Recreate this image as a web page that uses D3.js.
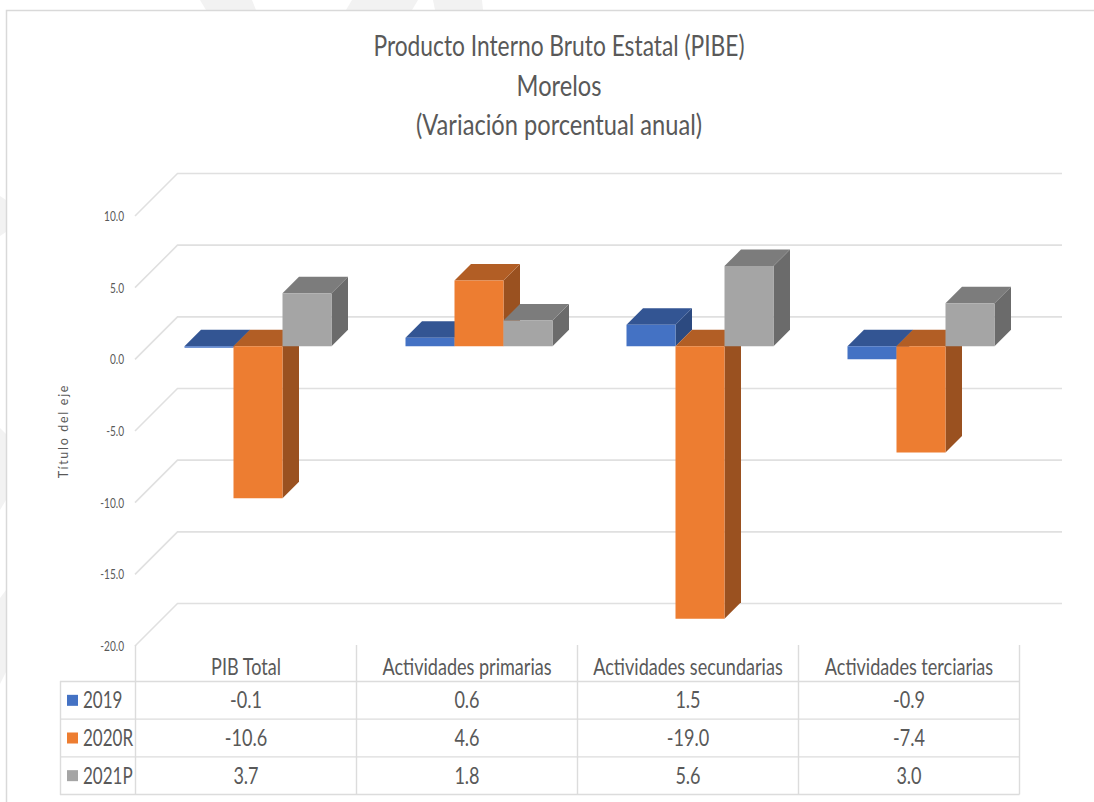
<!DOCTYPE html>
<html>
<head>
<meta charset="utf-8">
<script src="https://cdnjs.cloudflare.com/ajax/libs/d3/7.8.5/d3.min.js"></script>
<style>
html, body { margin: 0; padding: 0; background: #fff; }
svg { display: block; }
text { font-family: Lato, "Open Sans", sans-serif; fill: #595959; }
</style>
</head>
<body>
<svg id="svg" width="1094" height="802"></svg>
<script>
var categories = ['PIB Total', 'Actividades primarias', 'Actividades secundarias', 'Actividades terciarias'];
var seriesNames = ['2019', '2020R', '2021P'];
var values2019 = [-0.1, 0.6, 1.5, -0.9];
var values2020 = [-10.6, 4.6, -19.0, -7.4];
var values2021 = [3.7, 1.8, 5.6, 3.0];
var yTicks = [10, 5, 0, -5, -10, -15, -20];
var titleLines = ['Producto Interno Bruto Estatal (PIBE)', 'Morelos', '(Variación porcentual anual)'];

var seriesValues = [values2019, values2020, values2021];
var colors = [
    {front: '#4472c4', top: '#335593', side: '#2c4a80'},
    {front: '#ed7d31', top: '#b25e25', side: '#9a5120'},
    {front: '#a5a5a5', top: '#7c7c7c', side: '#6b6b6b'}
];

var svg = d3.select('#svg');

// horizontal squeeze, the original font is much narrower than Lato
function squeeze(sel, factor) {
    sel.each(function () {
        d3.select(this)
            .attr('textLength', this.getComputedTextLength() * factor)
            .attr('lengthAdjust', 'spacingAndGlyphs');
    });
}

// faint watermark behind the chart
var watermark = [
    [[200, 0], [252, 0], [256, 10], [206, 10]],
    [[352, 0], [418, 0], [412, 10], [346, 10]],
    [[433, 0], [482, 0], [483, 10], [435, 10]],
    [[0, 196], [6, 200], [6, 232], [0, 236]],
    [[0, 428], [6, 434], [6, 500], [0, 510]],
    [[0, 598], [6, 590], [6, 672], [0, 684]]
];
svg.selectAll('polygon.mark')
    .data(watermark)
    .enter()
    .append('polygon')
    .attr('class', 'mark')
    .attr('points', function (d) { return d.join(' '); })
    .attr('fill', '#f2f2f2');

// outer chart border
svg.append('path')
    .attr('d', 'M6.5,802V10.5H1094')
    .attr('fill', 'none')
    .attr('stroke', '#d9d9d9')
    .attr('stroke-width', 1.5);

var y = d3.scaleLinear().domain([-20, 10]).range([646, 216]);
var x = d3.scaleBand().domain(categories).range([135.5, 1019.5]);
var xInner = d3.scaleBand().domain(seriesNames).range([36, 183]);

var wallDepth = 42.5;
var barPlane = 13;
var barDepth = 16.5;
var wallRight = 1062;

// gridlines: side wall + back wall
svg.selectAll('path.grid')
    .data(yTicks)
    .enter()
    .append('path')
    .attr('class', 'grid')
    .attr('d', function (d) {
        return 'M135,' + y(d) + 'L' + (135 + wallDepth) + ',' + (y(d) - wallDepth) + 'H' + wallRight;
    })
    .attr('fill', 'none')
    .attr('stroke', '#e0e0e0')
    .attr('stroke-width', 1.6);

var yAxis = d3.axisLeft(y)
    .tickValues(yTicks)
    .tickSize(0)
    .tickFormat(function (d) { return d.toFixed(1); });

var axisG = svg.append('g')
    .attr('transform', 'translate(127,0)')
    .call(yAxis);
axisG.select('.domain').remove();
axisG.selectAll('text')
    .attr('font-size', 14)
    .style('font-family', 'Lato, sans-serif')
    .call(squeeze, 0.72);

svg.append('text')
    .text('Título del eje')
    .attr('transform', 'translate(67.5,431) rotate(-90)')
    .attr('text-anchor', 'middle')
    .attr('font-size', 12.5)
    .attr('letter-spacing', 1.7);

var titleSqueeze = [0.785, 0.815, 0.815];
svg.selectAll('text.title')
    .data(titleLines)
    .enter()
    .append('text')
    .attr('class', 'title')
    .text(function (d) { return d; })
    .attr('x', 559)
    .attr('y', function (d, i) { return 56 + i * 39.5; })
    .attr('text-anchor', 'middle')
    .attr('font-size', 29)
    .each(function (d, i) { d3.select(this).call(squeeze, titleSqueeze[i]); });

// bars
function barFaces(catIndex, serIndex) {
    var v = seriesValues[serIndex][catIndex];
    var x0 = x(categories[catIndex]) + xInner(seriesNames[serIndex]) + barPlane;
    var x1 = x0 + xInner.bandwidth();
    var shift = barPlane;
    var yTop = y(Math.max(v, 0)) - shift;
    var yBot = y(Math.min(v, 0)) - shift;
    var d = barDepth;
    return {
        top: [[x0, yTop], [x1, yTop], [x1 + d, yTop - d], [x0 + d, yTop - d]],
        side: [[x1, yTop], [x1 + d, yTop - d], [x1 + d, yBot - d], [x1, yBot]],
        front: [[x0, yTop], [x1, yTop], [x1, yBot], [x0, yBot]]
    };
}

categories.forEach(function (cat, c) {
    seriesNames.forEach(function (name, s) {
        var faces = barFaces(c, s);
        var g = svg.append('g').attr('class', 'bar');
        ['side', 'top', 'front'].forEach(function (k) {
            g.append('polygon')
                .attr('points', faces[k].join(' '))
                .attr('fill', colors[s][k]);
        });
    });
});

// data table
var rowY = d3.scaleBand().domain(seriesNames).range([681.5, 794.5]);
var tableColor = '#dcdcdc';

svg.selectAll('line.hrow')
    .data([681.5].concat(seriesNames.map(function (d) { return rowY(d) + rowY.bandwidth(); })))
    .enter()
    .append('line')
    .attr('class', 'hrow')
    .attr('x1', 60).attr('x2', 1019.5)
    .attr('y1', function (d) { return d; })
    .attr('y2', function (d) { return d; })
    .attr('stroke', tableColor)
    .attr('stroke-width', 1.4);

svg.selectAll('line.vcol')
    .data(categories.map(function (d) { return x(d); }).concat([x.range()[1]]))
    .enter()
    .append('line')
    .attr('class', 'vcol')
    .attr('x1', function (d) { return d; })
    .attr('x2', function (d) { return d; })
    .attr('y1', 645).attr('y2', 794.5)
    .attr('stroke', tableColor)
    .attr('stroke-width', 1.4);

svg.append('line')
    .attr('x1', 60.5).attr('x2', 60.5)
    .attr('y1', 681).attr('y2', 795)
    .attr('stroke', tableColor)
    .attr('stroke-width', 1.4);

svg.selectAll('text.cat')
    .data(categories)
    .enter()
    .append('text')
    .attr('class', 'cat')
    .text(function (d) { return d; })
    .attr('x', function (d) { return x(d) + x.bandwidth() / 2; })
    .attr('y', 675)
    .attr('text-anchor', 'middle')
    .attr('font-size', 23)
    .call(squeeze, 0.785);

seriesNames.forEach(function (name, s) {
    var rowMid = rowY(name) + rowY.bandwidth() / 2;

    svg.append('rect')
        .attr('x', 67)
        .attr('y', rowMid - 5.5)
        .attr('width', 11)
        .attr('height', 11)
        .attr('fill', colors[s].front);

    svg.append('text')
        .attr('class', 'rowname')
        .text(name)
        .attr('x', 83)
        .attr('y', rowMid + 8)
        .attr('font-size', 23)
        .call(squeeze, 0.74);

    svg.selectAll('text.val' + s)
        .data(seriesValues[s])
        .enter()
        .append('text')
        .attr('class', 'val' + s)
        .text(function (d) { return d.toFixed(1); })
        .attr('x', function (d, i) { return x(categories[i]) + x.bandwidth() / 2; })
        .attr('y', rowMid + 8)
        .attr('text-anchor', 'middle')
        .attr('font-size', 23)
        .call(squeeze, 0.785);
});
</script>
</body>
</html>
